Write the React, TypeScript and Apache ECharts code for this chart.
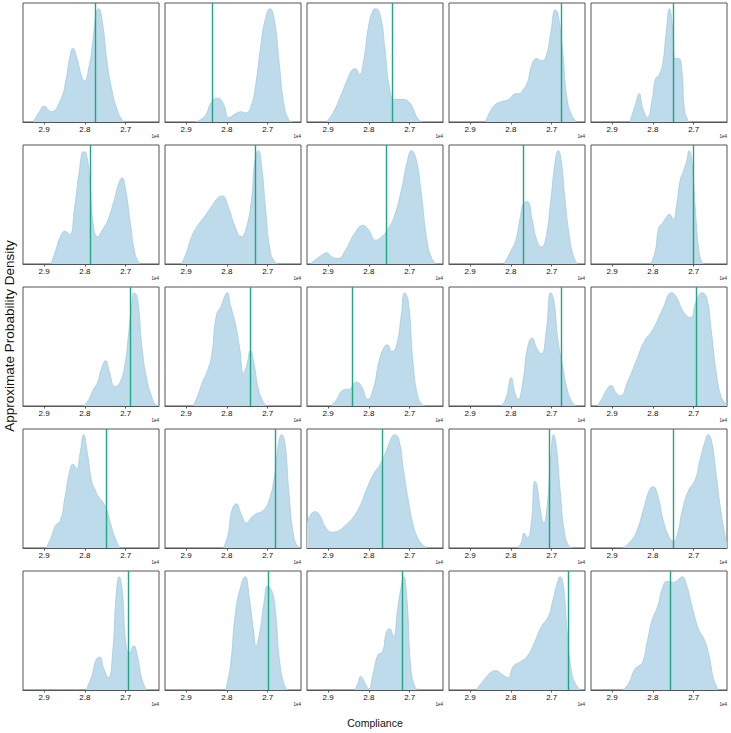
import React, { useEffect, useRef } from "react";
import * as echarts from "echarts";

// Compliance axis ticks (shared by all panels)
const tickValues = [27000, 28000, 29000];
const xMin = 26185;
const xMax = 29515;

// Estimated KDE outlines: [compliance, relative density]
const kdeR1C1 = [[29263,0],[29114,9],[29000,14],[28829,9],[28600,19],[28463,37],[28371,57],[28291,65],[28200,57],[28086,41],[28017,36],[27891,50],[27800,73],[27731,94],[27663,100],[27571,88],[27457,53],[27343,29],[27229,13],[27114,3],[27023,0]];
const kdeR1C2 = [[28771,0],[28543,5],[28371,18],[28223,21],[28086,16],[27949,4],[27800,7],[27651,9],[27537,8],[27400,15],[27286,35],[27171,67],[27057,91],[26943,100],[26828,88],[26714,50],[26600,15],[26486,2],[26394,0]];
const kdeR1C3 = [[29034,0],[28863,9],[28691,23],[28520,38],[28406,46],[28326,47],[28234,42],[28120,56],[28006,85],[27891,99],[27834,100],[27720,94],[27606,64],[27491,29],[27377,20],[27206,20],[27034,18],[26920,12],[26806,3],[26691,0]];
const kdeR1C4 = [[28623,0],[28509,9],[28394,15],[28223,18],[28051,20],[27880,25],[27800,25],[27708,28],[27594,35],[27480,51],[27366,56],[27251,54],[27137,58],[27023,79],[26909,99],[26851,96],[26737,64],[26623,20],[26509,6],[26394,0]];
const kdeR1C5 = [[28566,0],[28429,15],[28337,25],[28246,12],[28131,4],[28017,20],[27937,38],[27857,41],[27766,50],[27674,79],[27594,100],[27514,82],[27446,56],[27366,56],[27286,44],[27229,12],[27137,1],[27080,0]];

const kdeR2C1 = [[28829,0],[28714,12],[28600,24],[28486,29],[28371,26],[28257,48],[28143,80],[28029,99],[27971,98],[27880,74],[27800,36],[27686,24],[27571,30],[27434,39],[27286,56],[27171,71],[27091,76],[27000,65],[26886,36],[26771,9],[26657,0]];
const kdeR2C2 = [[29114,0],[29000,9],[28863,24],[28714,34],[28543,42],[28371,51],[28200,59],[28109,60],[27971,51],[27800,33],[27651,24],[27537,30],[27400,56],[27309,92],[27229,100],[27149,86],[27057,51],[26943,12],[26828,2],[26737,0]];
const kdeR2C3 = [[29434,0],[29263,5],[29149,8],[29034,10],[28897,6],[28749,5],[28577,12],[28349,27],[28143,34],[28006,30],[27834,21],[27686,24],[27549,30],[27377,42],[27206,65],[27069,89],[26954,100],[26840,92],[26726,65],[26577,21],[26463,5],[26349,0]];
const kdeR2C4 = [[28166,0],[27994,12],[27880,21],[27766,42],[27686,54],[27594,55],[27480,39],[27366,21],[27251,15],[27137,24],[27023,56],[26909,92],[26840,100],[26771,92],[26680,59],[26566,24],[26451,5],[26360,0]];
const kdeR2C5 = [[28051,0],[27937,12],[27857,32],[27766,36],[27674,41],[27594,44],[27503,39],[27423,51],[27331,74],[27251,82],[27171,91],[27114,100],[27046,91],[26966,51],[26874,12],[26794,1],[26737,0]];

const kdeR3C1 = [[28029,0],[27914,5],[27800,14],[27686,21],[27594,33],[27491,40],[27400,30],[27263,17],[27137,21],[27023,36],[26943,59],[26863,86],[26794,100],[26714,95],[26600,51],[26486,24],[26371,9],[26257,1],[26185,0.5]];
const kdeR3C2 = [[28829,0],[28714,9],[28600,21],[28486,30],[28371,45],[28257,80],[28143,88],[28051,97],[27994,100],[27914,89],[27800,74],[27686,51],[27594,29],[27514,36],[27423,49],[27343,39],[27229,15],[27114,4],[27034,0]];
const kdeR3C3 = [[28920,0],[28783,6],[28634,14],[28463,15],[28371,20],[28291,21],[28177,17],[28029,6],[27891,15],[27754,39],[27640,51],[27549,54],[27434,48],[27320,54],[27206,80],[27126,100],[27034,92],[26920,39],[26806,9],[26691,1],[26630,0]];
const kdeR3C4 = [[28223,0],[28109,8],[27994,25],[27903,12],[27823,6],[27708,21],[27594,51],[27480,60],[27366,51],[27251,46],[27137,65],[27023,100],[26943,92],[26851,59],[26737,36],[26623,15],[26509,4],[26394,0]];
const kdeR3C5 = [[29366,0],[29251,6],[29137,14],[29023,18],[28909,12],[28794,9],[28623,21],[28394,41],[28223,56],[27994,68],[27766,85],[27537,100],[27423,96],[27251,83],[27080,78],[26943,92],[26794,100],[26680,95],[26566,65],[26451,30],[26337,9],[26223,2],[26185,1]];

const kdeR4C1 = [[28943,0],[28829,9],[28714,20],[28600,24],[28486,45],[28371,68],[28291,74],[28200,70],[28120,83],[28029,100],[27937,83],[27834,59],[27743,51],[27663,45],[27549,40],[27457,33],[27343,18],[27229,6],[27137,0]];
const kdeR4C2 = [[28086,0],[27971,12],[27880,33],[27766,39],[27651,30],[27514,22],[27400,27],[27286,30],[27114,33],[26966,42],[26828,65],[26737,92],[26657,100],[26577,92],[26486,51],[26371,12],[26257,1],[26185,0]];
const kdeR4C3 = [[29515,21],[29434,29],[29320,32],[29206,29],[29057,18],[28897,14],[28749,15],[28577,20],[28406,26],[28234,36],[28063,51],[27891,65],[27720,74],[27571,86],[27434,98],[27366,100],[27263,95],[27149,68],[27034,42],[26920,21],[26806,9],[26691,3],[26577,0]];
const kdeR4C4 = [[27823,0],[27743,5],[27674,13],[27594,9],[27503,21],[27411,59],[27366,56],[27274,33],[27194,22],[27114,36],[27023,80],[26954,100],[26886,89],[26794,51],[26680,12],[26566,1],[26500,0]];
const kdeR4C5 = [[28737,0],[28566,5],[28394,15],[28223,35],[28086,51],[27994,54],[27880,46],[27743,24],[27594,9],[27503,6],[27400,12],[27286,32],[27137,50],[26966,60],[26851,77],[26714,95],[26646,100],[26566,95],[26451,65],[26337,33],[26223,9],[26185,4]];

const kdeR5C1 = [[27971,0],[27834,12],[27720,27],[27629,29],[27549,20],[27423,11],[27320,33],[27229,86],[27160,100],[27080,86],[27000,42],[26909,33],[26806,39],[26714,30],[26600,9],[26486,0]];
const kdeR5C2 = [[28029,0],[27914,21],[27800,65],[27686,88],[27549,100],[27457,83],[27343,51],[27286,39],[27194,51],[27091,77],[27000,92],[26886,86],[26806,68],[26714,27],[26600,5],[26509,0]];
const kdeR5C3 = [[28349,0],[28269,6],[28200,12],[28120,8],[28006,1],[27891,15],[27777,31],[27663,34],[27571,51],[27491,54],[27400,47],[27297,71],[27206,92],[27149,100],[27069,80],[26977,21],[26886,4],[26806,0]];
const kdeR5C4 = [[28851,0],[28680,8],[28509,15],[28371,17],[28223,14],[28074,11],[27937,21],[27766,25],[27594,30],[27423,42],[27251,56],[27080,65],[26966,80],[26851,96],[26794,100],[26714,92],[26623,51],[26509,15],[26394,4],[26280,0]];
const kdeR5C5 = [[28737,0],[28589,6],[28451,18],[28360,21],[28257,24],[28131,44],[28017,62],[27880,74],[27766,90],[27651,96],[27537,95],[27423,96],[27286,100],[27171,92],[27023,71],[26874,53],[26737,44],[26623,30],[26509,9],[26394,0]];

const panelCurves = [
  kdeR1C1, kdeR1C2, kdeR1C3, kdeR1C4, kdeR1C5,
  kdeR2C1, kdeR2C2, kdeR2C3, kdeR2C4, kdeR2C5,
  kdeR3C1, kdeR3C2, kdeR3C3, kdeR3C4, kdeR3C5,
  kdeR4C1, kdeR4C2, kdeR4C3, kdeR4C4, kdeR4C5,
  kdeR5C1, kdeR5C2, kdeR5C3, kdeR5C4, kdeR5C5,
];

// Vertical reference line (observed compliance) for each panel
const referenceLines = [
  27735, 28370, 27434, 26755, 27503,
  27880, 27297, 27571, 27709, 27000,
  26897, 27423, 28406, 26771, 26931,
  27469, 26817, 27663, 27069, 27503,
  26943, 26989, 27171, 26600, 27571,
];

const xTitle = "Compliance";
const yTitle = "Approximate Probability Density";
const exponentLabel = "1e4";

const colLefts = [23, 165, 307, 449, 591];
const rowTops = [3, 145, 287, 429, 571];
const panelW = 136;
const panelH = 119;

export default function App() {
  const ref = useRef<HTMLDivElement>(null);
  useEffect(() => {
    if (!ref.current) return;
    const chart = echarts.init(ref.current, null, { renderer: "svg" });
    const grids: any[] = [];
    const xAxes: any[] = [];
    const yAxes: any[] = [];
    const series: any[] = [];
    const graphics: any[] = [];
    panelCurves.forEach((curve, i) => {
      const r = Math.floor(i / 5);
      const c = i % 5;
      const left = colLefts[c];
      const top = rowTops[r];
      grids.push({
        left, top, width: panelW, height: panelH,
        show: true, borderColor: "#555", borderWidth: 1, backgroundColor: "transparent",
      });
      xAxes.push({
        type: "value", gridIndex: i, inverse: true, min: xMin, max: xMax,
        splitLine: { show: false },
        axisLine: { show: true, lineStyle: { color: "#555", width: 1 } },
        axisTick: { show: true, customValues: tickValues, length: 2.5, lineStyle: { color: "#555" } },
        axisLabel: {
          show: true, customValues: tickValues, fontSize: 8, color: "#111",
          fontFamily: "Liberation Sans, Arial, sans-serif", margin: 3,
          formatter: (v: number) => (v / 10000).toFixed(1),
        },
      });
      yAxes.push({
        type: "value", gridIndex: i, min: 0, max: 105, show: false,
        splitLine: { show: false },
      });
      const sorted = [...curve].sort((a, b) => a[0] - b[0]);
      series.push({
        type: "line", xAxisIndex: i, yAxisIndex: i, data: sorted,
        smooth: 0.5, clip: true, symbol: "none", silent: true,
        lineStyle: { color: "#a6cbe0", width: 0.8 },
        areaStyle: { color: "#bddbeb", opacity: 1 },
        markLine: {
          silent: true, symbol: "none", label: { show: false },
          lineStyle: { color: "#1fa783", width: 1.4, type: "solid" },
          data: [{ xAxis: referenceLines[i] }],
        },
        z: 2,
      });
      graphics.push({
        type: "text", right: 731 - (left + panelW), top: top + panelH + 12,
        style: { text: exponentLabel, fontSize: 4.5, fill: "#222", fontFamily: "Liberation Sans, Arial, sans-serif" },
      });
    });
    graphics.push({
      type: "text", x: 375, y: 723,
      style: { text: xTitle, fontSize: 10.5, fill: "#111", align: "center", verticalAlign: "middle", fontFamily: "Liberation Sans, Arial, sans-serif" },
    });
    graphics.push({
      type: "text", x: 9, y: 336, rotation: Math.PI / 2,
      style: { text: yTitle, fontSize: 13.5, fill: "#111", align: "center", verticalAlign: "middle", fontFamily: "Liberation Sans, Arial, sans-serif" },
    });
    chart.setOption({
      animation: false,
      grid: grids,
      xAxis: xAxes,
      yAxis: yAxes,
      series,
      graphic: graphics,
    });
    return () => chart.dispose();
  }, []);
  return (
    <div
      ref={ref}
      style={{ position: "absolute", left: 0, top: 0, width: 731, height: 733, background: "#fff" }}
    />
  );
}
